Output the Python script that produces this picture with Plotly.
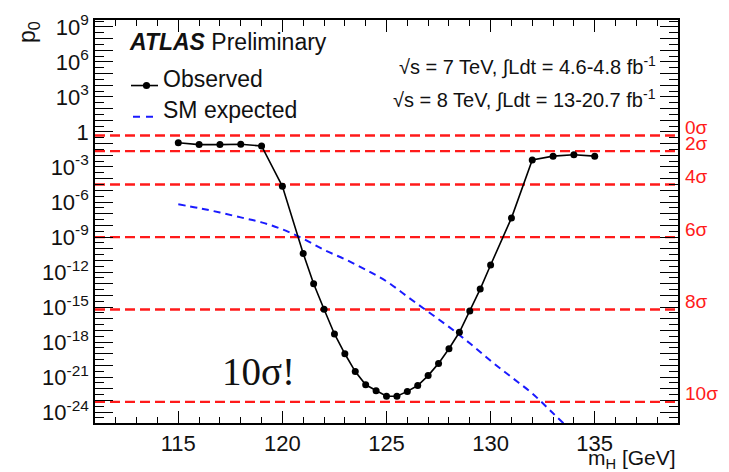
import math
import plotly.graph_objects as go

# Observed local p0 versus Higgs mass hypothesis
obs_mass = [115, 116, 117, 118, 119, 120, 121, 121.5, 122, 122.5, 123, 123.5, 124,
            124.5, 125, 125.5, 126, 126.5, 127, 127.5, 128, 128.5, 129, 129.5, 130,
            131, 132, 133, 134, 135]
obs_p0 = [1.2e-1, 8.3e-2, 8.3e-2, 8.9e-2, 6.3e-2, 2.2e-5, 3.9e-11, 1.0e-13, 6.5e-16,
          5.0e-18, 1.0e-19, 3.0e-21, 2.2e-22, 6.9e-23, 2.3e-23, 2.3e-23, 6.0e-23,
          1.9e-22, 1.35e-21, 1.5e-20, 2.7e-19, 6.9e-18, 4.7e-16, 3.5e-14, 4.0e-12,
          4.2e-8, 4.0e-3, 8.5e-3, 1.1e-2, 8.5e-3]

# Expected p0 for a Standard Model Higgs boson
exp_mass = [115, 116, 117, 118, 119, 120, 121, 122, 123, 124, 125, 126, 127, 128,
            129, 130, 131, 132, 133, 134]
exp_p0 = [6.3e-7, 3.0e-7, 1.26e-7, 4.8e-8, 1.8e-8, 4.5e-9, 7.1e-10, 7.9e-11, 1.26e-11,
          1.6e-12, 1.6e-13, 7.9e-15, 4.0e-16, 2.0e-17, 7.9e-19, 2.5e-20, 1.0e-21,
          4.0e-23, 7.9e-25, 1.6e-26]

# One-sided significance levels
sigma_labels = ["0σ", "2σ", "4σ", "6σ", "8σ", "10σ"]
sigma_p0 = [0.5, 2.275e-2, 3.167e-5, 9.866e-10, 6.221e-16, 7.62e-24]

# Axis ticks
x_range = [111, 139]
x_major = [115, 120, 125, 130, 135]
y_exp_range = [-24.93, 9.59]
y_label_exps = [9, 6, 3, 0, -3, -6, -9, -12, -15, -18, -21, -24]

FONT = "Liberation Sans, Arial, Helvetica, sans-serif"
RED = "#ff1a1a"
BLUE = "#1a1aff"

# plot-area geometry in pixels, used to place the free text
W, H = 729, 472
L, R, T, B = 95, 51, 11, 49
PW, PH = W - L - R, H - T - B


def px(x):
    return (x - L) / PW


def py(y):
    return (H - B - y) / PH


fig = go.Figure()

# Significance reference lines
for p in sigma_p0:
    fig.add_trace(go.Scatter(
        x=x_range, y=[p, p], mode="lines",
        line=dict(color=RED, width=2.4, dash="10px,5px"),
        hoverinfo="skip", showlegend=False))

fig.add_trace(go.Scatter(
    x=exp_mass, y=exp_p0, mode="lines", name="SM expected",
    line=dict(color=BLUE, width=2, dash="7px,5px", shape="spline", smoothing=1.0),
    showlegend=False))

fig.add_trace(go.Scatter(
    x=obs_mass, y=obs_p0, mode="lines+markers", name="Observed",
    line=dict(color="black", width=1.6),
    marker=dict(color="black", size=7),
    showlegend=False))

y_label_vals = [10.0 ** k for k in y_label_exps]
y_label_text = ["1" if k == 0 else f"10<sup>{k}</sup>" for k in y_label_exps]
y_decades = [10.0 ** k for k in range(-25, 10)]
y_half = [10.0 ** (k + 0.5) for k in range(-25, 10)]

axis_common = dict(showgrid=False, zeroline=False, tickcolor="black", tickwidth=1.3)

fig.update_xaxes(
    type="linear", range=x_range,
    tickmode="array", tickvals=x_major,
    ticks="inside", ticklen=12,
    minor=dict(tickmode="array", tickvals=list(range(111, 140)),
               ticks="inside", ticklen=6, tickwidth=1.3, tickcolor="black"),
    showline=True, linecolor="black", linewidth=1.6, mirror="ticks",
    tickfont=dict(family=FONT, size=22, color="#111"),
    **axis_common,
)
# labelled y axis with half-decade minor ticks
fig.update_yaxes(
    type="log", range=y_exp_range,
    tickmode="array", tickvals=y_label_vals, ticktext=y_label_text,
    ticks="inside", ticklen=18,
    minor=dict(tickmode="array", tickvals=y_half,
               ticks="inside", ticklen=9, tickwidth=1.3, tickcolor="black"),
    showline=True, linecolor="black", linewidth=1.6, mirror="ticks",
    tickfont=dict(family=FONT, size=22, color="#111"),
    **axis_common,
)
# companion axis carrying the long tick at every decade
fig.update_layout(yaxis2=dict(
    type="log", range=y_exp_range, overlaying="y", anchor="x", side="left",
    tickmode="array", tickvals=y_decades, showticklabels=False,
    ticks="inside", ticklen=18, mirror="ticks", showline=False,
    **axis_common,
))
fig.add_trace(go.Scatter(x=[None], y=[None], yaxis="y2", showlegend=False,
                         hoverinfo="skip"))

annotations = []
# Significance labels on the right-hand side
for lab, p in zip(sigma_labels, sigma_p0):
    annotations.append(dict(
        xref="paper", yref="y", x=1.0, y=math.log10(p), xshift=5, yshift=8,
        xanchor="left", yanchor="middle", showarrow=False, text=lab,
        font=dict(family=FONT, size=19, color=RED)))

annotations += [
    dict(xref="paper", yref="paper", x=px(28), y=py(10),
         xanchor="center", yanchor="top", textangle=-90, showarrow=False,
         text="p<sub>0</sub>", font=dict(family=FONT, size=23, color="#111")),
    dict(xref="paper", yref="paper", x=1.0, y=0, yshift=-21,
         xanchor="right", yanchor="top", showarrow=False,
         text="m<sub>H</sub> [GeV]", font=dict(family=FONT, size=21, color="#111")),
    dict(xref="paper", yref="paper", x=px(127), y=py(33),
         xanchor="left", yanchor="middle", showarrow=False,
         text="<b><i>ATLAS</i></b> Preliminary",
         font=dict(family=FONT, size=23, color="#111")),
    dict(xref="paper", yref="paper", x=px(161), y=py(71),
         xanchor="left", yanchor="middle", showarrow=False,
         text="Observed", font=dict(family=FONT, size=23, color="#111")),
    dict(xref="paper", yref="paper", x=px(161), y=py(103),
         xanchor="left", yanchor="middle", showarrow=False,
         text="SM expected", font=dict(family=FONT, size=23, color="#111")),
    dict(xref="paper", yref="paper", x=px(658), y=py(58),
         xanchor="right", yanchor="middle", showarrow=False,
         text="√s = 7 TeV, ∫Ldt = 4.6-4.8 fb<sup>-1</sup>",
         font=dict(family=FONT, size=20, color="#111")),
    dict(xref="paper", yref="paper", x=px(658), y=py(92),
         xanchor="right", yanchor="middle", showarrow=False,
         text="√s = 8 TeV, ∫Ldt = 13-20.7 fb<sup>-1</sup>",
         font=dict(family=FONT, size=20, color="#111")),
    dict(xref="paper", yref="paper", x=px(220), y=py(370),
         xanchor="left", yanchor="middle", showarrow=False,
         text="10σ!", font=dict(family="Liberation Serif, Times New Roman, serif",
                                size=39, color="#111")),
]

# Legend samples
obs_leg_y, exp_leg_y = py(78), py(110)
mk = 3.6
shapes = [
    dict(type="line", xref="paper", yref="paper", x0=px(131), x1=px(158),
         y0=obs_leg_y, y1=obs_leg_y, line=dict(color="black", width=1.6)),
    dict(type="circle", xref="paper", yref="paper", x0=px(146.5 - mk), x1=px(146.5 + mk),
         y0=py(78 + mk), y1=py(78 - mk), fillcolor="black",
         line=dict(color="black", width=0)),
    dict(type="line", xref="paper", yref="paper", x0=px(133), x1=px(156),
         y0=exp_leg_y, y1=exp_leg_y, line=dict(color=BLUE, width=2, dash="7px,6px")),
]

fig.update_layout(
    width=W, height=H,
    margin=dict(l=L, r=R, t=T, b=B),
    paper_bgcolor="white", plot_bgcolor="white",
    annotations=annotations, shapes=shapes,
    showlegend=False,
)

fig.write_html("out.html")
